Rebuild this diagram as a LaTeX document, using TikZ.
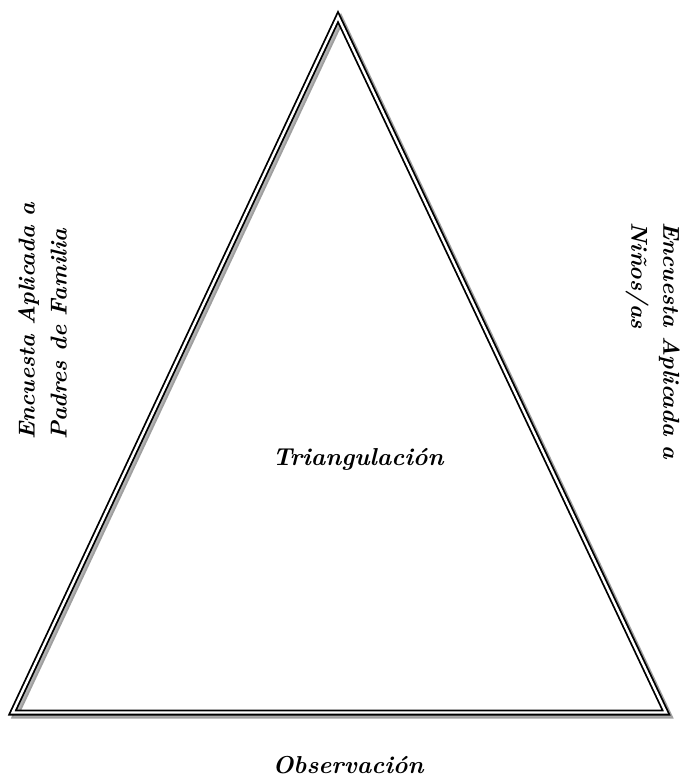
\documentclass[tikz,border=0pt]{standalone}
\begin{document}
\begin{tikzpicture}[x=1pt,y=-1pt,
  tri/.style={line width=1.8pt, double distance=2.4pt, line join=miter},
  lbl/.style={font=\fontsize{23}{32}\selectfont\bfseries\itshape, inner sep=0pt, align=left},
  ctr/.style={font=\fontsize{24.5}{28}\selectfont\bfseries\itshape, inner sep=0pt}]
\useasboundingbox (0,0) rectangle (682,782);
\coordinate (A) at (338,17);
\coordinate (L) at (12.5,712.5);
\coordinate (R) at (666,712.5);
\begin{scope}[shift={(3,3)}]
\draw[tri, draw=gray!75, double=gray!60] (338,17) -- (12.5,712.5) -- (666,712.5) -- cycle;
\end{scope}
\draw[tri, draw=black, double=white] (A) -- (L) -- (R) -- cycle;
\node[lbl, rotate=90, anchor=north west] (left) at (18,440) {Encuesta Aplicada a\\Padres de Familia};
\node[lbl, rotate=-90, anchor=north west] (right) at (680,222) {Encuesta Aplicada a\\Niños/as};
\node[ctr, anchor=base] (tri) at (358,465) {Triangulación};
\node[ctr, anchor=base] (obs) at (348,773) {Observación};
\end{tikzpicture}
\end{document}
